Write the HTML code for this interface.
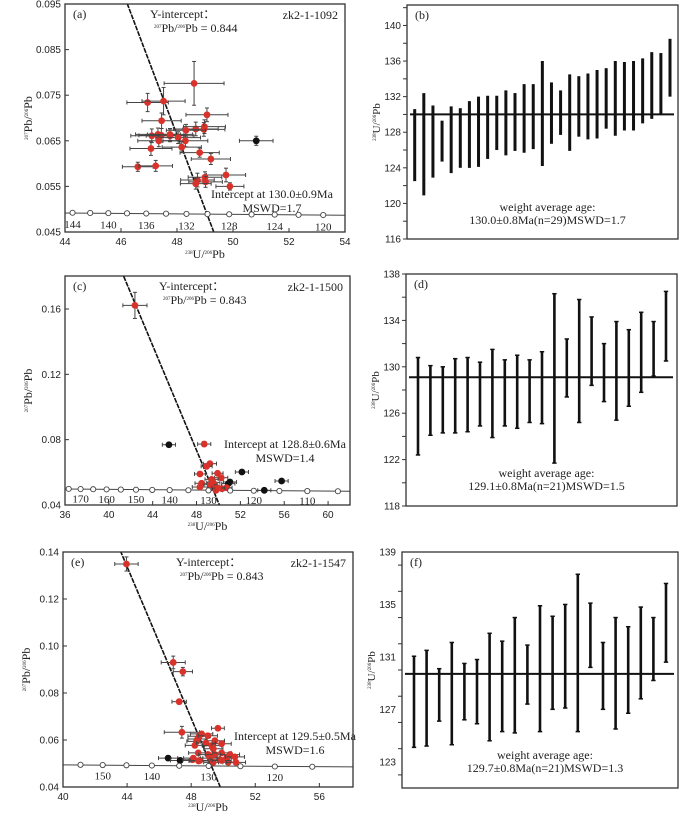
<!DOCTYPE html>
<html><head><meta charset="utf-8">
<style>
html,body{margin:0;padding:0;background:#fff;}
svg{display:block;}
.sans{font-family:"Liberation Sans",Arial,sans-serif;}
.serif{font-family:"Liberation Serif","Times New Roman",serif;}
</style></head>
<body>
<svg id="fig" width="700" height="817" viewBox="0 0 700 817" xmlns="http://www.w3.org/2000/svg"></svg>
<script>
// ---------- Panel (a) data ----------
const aX = [48.61,46.95,47.52,47.45,49.07,48.67,48.98,48.96,48.32,47.10,47.32,47.44,47.75,47.75,48.04,47.35,48.30,48.17,47.07,48.81,49.21,46.60,47.24,49.75,48.73,49.00,49.02,48.67,49.89];
const aY = [0.0776,0.0734,0.0737,0.0694,0.0707,0.0676,0.0681,0.0675,0.0673,0.0661,0.0664,0.0662,0.0661,0.0664,0.0657,0.0650,0.0650,0.0636,0.0633,0.0624,0.0610,0.0593,0.0595,0.0575,0.0564,0.0570,0.0560,0.0556,0.0550];
const aXErr = [1.07,0.74,0.77,0.70,0.75,0.80,0.75,0.75,0.70,0.75,0.80,0.80,0.85,0.80,0.80,0.75,0.80,0.70,0.75,0.70,0.70,0.55,0.60,0.70,0.60,0.60,0.60,0.55,0.50];
const aYErr = [0.0048,0.0020,0.0030,0.0017,0.0015,0.0015,0.0015,0.0015,0.0013,0.0015,0.0014,0.0015,0.0013,0.0013,0.0013,0.0013,0.0013,0.0012,0.0015,0.0010,0.0012,0.0010,0.0012,0.0015,0.0015,0.0012,0.0012,0.0012,0.0008];
const aBlackX = [50.83];
const aBlackY = [0.0650];
const aAges = [144,142,140,138,136,134,132,130,128,126,124,122,120];
const aAgeLabels = [144,140,136,132,128,124,120];
const aYTicks = [0.045,0.055,0.065,0.075,0.085,0.095];
const aXTicks = [44,46,48,50,52,54];
const aIntercept = [0.844, 130.0];

// ---------- Panel (c) data ----------
const cX = [42.38,48.70,49.22,48.92,48.31,49.92,50.25,48.46,48.31,49.37,49.53,49.68,49.77,50.32,50.74,49.28,49.98];
const cY = [0.1622,0.0773,0.0653,0.0637,0.0590,0.0594,0.0567,0.0533,0.0510,0.0557,0.0537,0.0516,0.0490,0.0500,0.0506,0.0524,0.0504];
const cXErr = [1.10,0.60,0.60,0.50,0.50,0.50,0.60,0.60,0.70,0.60,0.60,0.60,0.60,0.60,0.50,0.60,0.60];
const cYErr = [0.0080,0.0015,0.0012,0.0012,0.0010,0.0010,0.0010,0.0010,0.0010,0.0010,0.0010,0.0010,0.0010,0.0010,0.0010,0.0010,0.0010];
const cBlackX = [45.48,51.05,52.14,54.18,55.76,50.90];
const cBlackY = [0.0769,0.0541,0.0602,0.0490,0.0547,0.0531];
const cAges = [175,170,165,160,155,150,145,140,135,130,125,120,115,110,105];
const cAgeLabels = [170,160,150,140,130,120,110];
const cYTicks = [0.04,0.08,0.12,0.16];
const cXTicks = [36,40,44,48,52,56,60];
const cIntercept = [0.843, 128.8];

// ---------- Panel (e) data ----------
const eX = [43.96,46.88,47.48,47.25,47.42,49.67,48.65,48.50,48.40,48.33,48.23,49.04,49.48,48.92,49.29,49.38,49.90,48.44,49.06,49.48,49.90,50.42,48.13,48.08,48.54,49.17,49.79,50.21,50.73,48.46,49.38,50.31,50.79,49.90];
const eY = [0.1349,0.0930,0.0891,0.0763,0.0633,0.0650,0.0626,0.0616,0.0604,0.0594,0.0577,0.0618,0.0597,0.0587,0.0576,0.0563,0.0584,0.0545,0.0538,0.0538,0.0545,0.0538,0.0523,0.0516,0.0513,0.0523,0.0516,0.0523,0.0528,0.0511,0.0505,0.0505,0.0505,0.0513];
const eXErr = [0.73,0.75,0.60,0.45,1.10,0.40,0.70,0.70,0.60,0.60,0.60,0.60,0.60,0.60,0.60,0.60,0.60,0.60,0.60,0.60,0.60,0.60,0.60,0.60,0.60,0.60,0.60,0.60,0.60,0.60,0.60,0.60,0.60,0.60];
const eYErr = [0.0030,0.0027,0.0018,0.0010,0.0025,0.0008,0.0010,0.0010,0.0010,0.0010,0.0010,0.0010,0.0010,0.0010,0.0010,0.0010,0.0010,0.0008,0.0008,0.0008,0.0008,0.0008,0.0008,0.0008,0.0008,0.0008,0.0008,0.0008,0.0008,0.0008,0.0008,0.0008,0.0008,0.0008];
const eBlackX = [46.56,47.31];
const eBlackY = [0.0523,0.0513];
const eAges = [155,150,145,140,135,130,125,120,115];
const eAgeLabels = [150,140,130,120];
const eYTicks = [0.04,0.06,0.08,0.10,0.12,0.14];
const eXTicks = [40,44,48,52,56];
const eIntercept = [0.843, 129.5];

// ---------- Panel (b) weighted mean ----------
const bLow  = [122.5,120.9,122.9,124.7,123.4,124.0,124.0,124.1,125.0,126.0,125.4,125.9,125.7,126.1,124.2,126.7,127.7,125.9,127.5,127.2,127.3,128.4,127.6,128.2,128.2,129.0,129.5,130.0,132.0];
const bHigh = [130.6,132.4,131.0,129.3,130.9,130.7,131.5,132.0,132.1,132.1,132.7,132.4,133.4,133.4,136.0,133.6,132.7,134.5,134.3,134.6,135.0,135.2,136.0,135.9,136.0,136.3,137.0,136.9,138.5];
const bMean = 130.0;
const bTicks = [116,120,124,128,132,136,140];

// ---------- Panel (d) ----------
const dLow  = [122.4,124.1,124.3,124.3,124.4,124.9,123.9,124.9,124.7,125.2,125.1,121.7,127.4,125.2,128.4,127.0,125.4,126.6,127.8,129.2,130.5];
const dHigh = [130.8,130.1,130.0,130.7,130.8,130.4,131.5,130.6,131.0,130.6,131.3,136.3,132.4,135.8,134.3,132.0,133.9,133.2,134.7,133.9,136.5];
const dMean = 129.1;
const dTicks = [118,122,126,130,134,138];

// ---------- Panel (f) ----------
const fLow  = [124.1,124.2,126.1,124.3,126.2,125.9,124.6,125.3,125.2,127.4,125.3,127.0,127.1,125.3,130.2,127.0,125.5,126.7,127.8,129.2,130.6];
const fHigh = [131.05,131.5,130.1,132.1,130.5,130.8,132.8,132.2,134.0,131.9,134.9,134.1,135.0,137.3,135.1,132.1,134.0,133.3,134.8,134.0,136.6];
const fMean = 129.7;
const fTicks = [123,127,131,135,139];

const NS = 'http://www.w3.org/2000/svg';
const fig = document.getElementById('fig');
function mk(tag, attrs, parent){
  const el = document.createElementNS(NS, tag);
  for (const k in attrs) el.setAttribute(k, attrs[k]);
  (parent||fig).appendChild(el);
  return el;
}
function txt(parent, x, y, s, size, cls, anchor){
  const t = mk('text', {x:x, y:y, 'font-size':size, 'class':cls, 'text-anchor':anchor||'start', fill:'#222'}, parent);
  t.textContent = s;
  return t;
}
const L8 = 1.55125e-10, L5 = 9.8485e-10;
function concX(age){ return 1/(Math.exp(L8*age*1e6)-1); }
function concY(age){ return (Math.exp(L5*age*1e6)-1)/(Math.exp(L8*age*1e6)-1)/137.88; }

function scatterPanel(o){
  const g = mk('g', {});
  
  
  const sx = v => o.x0 + (v - o.xd[0])/(o.xd[1]-o.xd[0])*(o.x1-o.x0);
  const sy = v => o.y1 - (v - o.yd[0])/(o.yd[1]-o.yd[0])*(o.y1-o.y0);
  const clip = 'clip-'+o.id;
  const cp = mk('clipPath', {id:clip}, g);
  mk('rect', {x:o.x0, y:o.y0, width:o.x1-o.x0, height:o.y1-o.y0}, cp);
  o.yTicks.forEach(v=>{
    const y = sy(v);
    const tk = mk('line', {x1:o.x0, x2:o.x0+4, y1:y, y2:y, stroke:'#333', 'stroke-width':1}, g);
     
    const t = txt(g, o.x0-4, y+3.5, v.toFixed(o.yDec), 10, 'sans', 'end');
     
  });
  o.xTicks.forEach(v=>{
    const x = sx(v);
    mk('line', {x1:x, x2:x, y1:o.y1, y2:o.y1-4, stroke:'#333', 'stroke-width':1}, g);
    const t = txt(g, x, o.y1+13, String(v), 10, 'sans', 'middle');
     
  });
  const inner = mk('g', {'clip-path':'url(#'+clip+')'}, g);
  const ages = o.ages;
  const d = 'M'+sx(o.xd[0]-1).toFixed(1)+','+sy(concY(ages[0])+0.0003).toFixed(1)+' L'+sx(o.xd[1]+1).toFixed(1)+','+sy(concY(ages[ages.length-1])+0.0002).toFixed(1);
  const cl = mk('path', {d:d, stroke:'#444', 'stroke-width':1, fill:'none'}, inner);
   
  const yi = o.intercept[0], xc = concX(o.intercept[1]), yc = concY(o.intercept[1]);
  const slope = (yc - yi)/xc;
  const yA = o.yd[1]+0.01, yB = o.yd[0]-0.01;
  const dl = mk('line', {x1:sx((yA-yi)/slope), y1:sy(yA), x2:sx((yB-yi)/slope), y2:sy(yB), stroke:'#111', 'stroke-width':1.6, 'stroke-dasharray':'5,1'}, inner);
   
  function pts(xs, ys, xe, ye, color, nm){
    xs.forEach((xv,i)=>{
      const px = sx(xv), py = sy(ys[i]);
      const ex = xe ? xe[i] : 0.6, ey = ye ? ye[i] : 0.001;
      const eg = mk('g', {stroke:'#444', 'stroke-width':1}, inner);
       
      mk('line', {x1:sx(xv-ex), x2:sx(xv+ex), y1:py, y2:py}, eg);
      mk('line', {x1:px, x2:px, y1:sy(ys[i]-ey), y2:sy(ys[i]+ey)}, eg);
      [sx(xv-ex), sx(xv+ex)].forEach(cx=>mk('line',{x1:cx,x2:cx,y1:py-2,y2:py+2}, eg));
      [sy(ys[i]-ey), sy(ys[i]+ey)].forEach(cy=>mk('line',{x1:px-2,x2:px+2,y1:cy,y2:cy}, eg));
      const c = mk('circle', {cx:px, cy:py, r:3.4, fill:color}, inner);
       
    });
  }
  pts(o.bx, o.by, null, null, '#111', 'excluded-point');
  pts(o.px, o.py, o.pxe, o.pye, '#d9322a', 'data-point');
  ages.forEach(a=>{
    const c = mk('circle', {cx:sx(concX(a)), cy:sy(concY(a)+0.0003), r:2.6, fill:'#fff', stroke:'#444', 'stroke-width':0.9}, inner);
     
  });
  o.ageLabels.forEach(a=>{
    const t = txt(g, sx(concX(a)), sy(concY(a))+o.ageDy, String(a), 11, 'serif', 'middle');
     
  });
  const fr = mk('rect', {x:o.x0, y:o.y0, width:o.x1-o.x0, height:o.y1-o.y0, fill:'none', stroke:'#333', 'stroke-width':1.3}, g);
   
  let t = txt(g, o.x0+8, o.y0+14, o.letter, 12, 'serif');  
  t = txt(g, o.x1-7, o.y0+15, o.sample, 12, 'serif', 'end');  
  t = txt(g, o.yiX, o.y0+14, 'Y-intercept：', 12, 'serif');  
  t = mk('text', {x:o.yiX+4, y:o.y0+28, 'font-size':12, 'class':'serif', fill:'#222'}, g);
   
  [['207',5,-4],['Pb/',12,4],['206',5,-4],['Pb = '+o.intercept[0].toFixed(3),12,4]].forEach(p=>{const s=mk('tspan',{'font-size':p[1],dy:p[2]},t); s.textContent=p[0];});
  t = txt(g, o.icX, o.icY, 'Intercept at '+o.icText, 12, 'serif', 'middle');  
  t = txt(g, o.icX, o.icY+14, 'MSWD='+o.mswd, 12, 'serif', 'middle');  
  t = mk('text', {x:0, y:0, 'font-size':12, 'class':'serif', fill:'#222', 'text-anchor':'middle', transform:'translate('+(o.x0-33)+','+((o.y0+o.y1)/2)+') rotate(-90)'}, g);
   
  [['207',5,-4],['Pb/',12,4],['206',5,-4],['Pb',12,4]].forEach(p=>{const s=mk('tspan',{'font-size':p[1],dy:p[2]},t); s.textContent=p[0];});
  t = mk('text', {x:(o.x0+o.x1)/2, y:o.y1+o.xtDy, 'font-size':12, 'class':'serif', fill:'#222', 'text-anchor':'middle'}, g);
   
  [['238',5,-4],['U/',12,4],['206',5,-4],['Pb',12,4]].forEach(p=>{const s=mk('tspan',{'font-size':p[1],dy:p[2]},t); s.textContent=p[0];});
}

function barPanel(o){
  const g = mk('g', {});
  
  
  const sy = v => o.y1 - (v - o.yd[0])/(o.yd[1]-o.yd[0])*(o.y1-o.y0);
  const n = o.low.length;
  const sx = i => o.xFirst + i*(o.xLast-o.xFirst)/(n-1);
  for (let v = Math.ceil(o.yd[0]/o.minor)*o.minor; v <= o.yd[1]; v += o.minor){
    mk('line', {x1:o.x0-4, x2:o.x0, y1:sy(v), y2:sy(v), stroke:'#333', 'stroke-width':1}, g);
  }
  o.ticks.forEach(v=>{
    const t = txt(g, o.x0-6, sy(v)+3.5, String(v), 10, 'sans', 'end');
     
  });
  const ml = mk('line', {x1:o.x0+3, x2:o.x1-4, y1:sy(o.mean), y2:sy(o.mean), stroke:'#111', 'stroke-width':2}, g);
   
  o.low.forEach((lo,i)=>{
    const x = sx(i);
    const b = mk('line', {x1:x, x2:x, y1:sy(lo), y2:sy(o.high[i]), stroke:'#111', 'stroke-width':o.bw}, g);
     
    if (o.caps){
      mk('line', {x1:x-2.2, x2:x+2.2, y1:sy(lo), y2:sy(lo), stroke:'#111', 'stroke-width':1.5}, g);
      mk('line', {x1:x-2.2, x2:x+2.2, y1:sy(o.high[i]), y2:sy(o.high[i]), stroke:'#111', 'stroke-width':1.5}, g);
    }
  });
  const fr = mk('rect', {x:o.x0, y:o.y0, width:o.x1-o.x0, height:o.y1-o.y0, fill:'none', stroke:'#333', 'stroke-width':1.3}, g);
   
  let t = txt(g, o.x0+8, o.y0+14, o.letter, 12, 'serif');  
  t = txt(g, (o.x0+o.x1)/2+5, o.y1-o.tDy, 'weight average age:', 12, 'serif', 'middle');  
  t = txt(g, (o.x0+o.x1)/2+5, o.y1-o.tDy+13, o.result, 12, 'serif', 'middle');  
  t = mk('text', {x:0, y:0, 'font-size':11, 'class':'serif', fill:'#222', 'text-anchor':'middle', transform:'translate('+(o.x0-27)+','+((o.y0+o.y1)/2)+') rotate(-90)'}, g);
   
  [['238',5,-4],['U/',11,4],['206',5,-4],['Pb',11,4]].forEach(p=>{const s=mk('tspan',{'font-size':p[1],dy:p[2]},t); s.textContent=p[0];});
}

scatterPanel({id:'a', name:'panel-a-concordia', letter:'(a)', sample:'zk2-1-1092', x0:65, x1:345, y0:4, y1:232, xd:[44,54], yd:[0.045,0.095], yDec:3,
  yTicks:aYTicks, xTicks:aXTicks, ages:aAges, ageLabels:aAgeLabels, ageDy:14, intercept:aIntercept,
  px:aX, py:aY, pxe:aXErr, pye:aYErr, bx:aBlackX, by:aBlackY, yiX:150, icX:272, icY:198, icText:'130.0±0.9Ma', mswd:'1.7', xtDy:26});
scatterPanel({id:'c', name:'panel-c-concordia', letter:'(c)', sample:'zk2-1-1500', x0:65, x1:350, y0:276, y1:505, xd:[36,62.0], yd:[0.04,0.1802], yDec:2,
  yTicks:cYTicks, xTicks:cXTicks, ages:cAges, ageLabels:cAgeLabels, ageDy:13, intercept:cIntercept,
  px:cX, py:cY, pxe:cXErr, pye:cYErr, bx:cBlackX, by:cBlackY, yiX:159, icX:285, icY:448, icText:'128.8±0.6Ma', mswd:'1.4', xtDy:25});
scatterPanel({id:'e', name:'panel-e-concordia', letter:'(e)', sample:'zk2-1-1547', x0:63, x1:353, y0:552, y1:787, xd:[40,58.1], yd:[0.04,0.14], yDec:2,
  yTicks:eYTicks, xTicks:eXTicks, ages:eAges, ageLabels:eAgeLabels, ageDy:14, intercept:eIntercept,
  px:eX, py:eY, pxe:eXErr, pye:eYErr, bx:eBlackX, by:eBlackY, yiX:176, icX:295, icY:740, icText:'129.5±0.5Ma', mswd:'1.6', xtDy:24});

barPanel({name:'panel-b-weighted-mean', letter:'(b)', x0:407, x1:678, y0:5, y1:239, yd:[116,142.3], minor:2, ticks:bTicks,
  low:bLow, high:bHigh, mean:bMean, xFirst:414.7, xLast:670, bw:3, caps:false, tDy:28, result:'130.0±0.8Ma(n=29)MSWD=1.7'});
barPanel({name:'panel-d-weighted-mean', letter:'(d)', x0:406, x1:677, y0:274, y1:506, yd:[118,138], minor:2, ticks:dTicks,
  low:dLow, high:dHigh, mean:dMean, xFirst:418, xLast:666, bw:2.6, caps:true, tDy:29, result:'129.1±0.8Ma(n=21)MSWD=1.5'});
barPanel({name:'panel-f-weighted-mean', letter:'(f)', x0:402, x1:678, y0:552, y1:788, yd:[121.0,139], minor:2, ticks:fTicks,
  low:fLow, high:fHigh, mean:fMean, xFirst:414, xLast:666, bw:2.6, caps:true, tDy:29, result:'129.7±0.8Ma(n=21)MSWD=1.3'});
</script>
</body></html>
